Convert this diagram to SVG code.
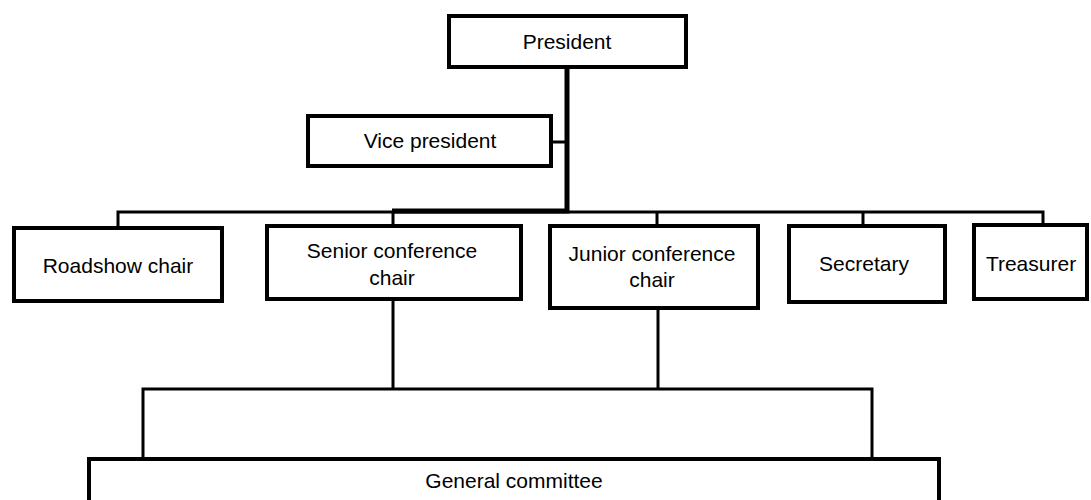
<svg xmlns="http://www.w3.org/2000/svg" width="1091" height="500" viewBox="0 0 1091 500">
<style>
.box{fill:#fff;stroke:#000;stroke-width:4}
.lbl{font-family:"Liberation Sans",Arial,sans-serif;font-size:21px;fill:#000;text-anchor:middle}
.c{fill:none;stroke:#000;stroke-width:3;stroke-linejoin:miter}
.ct{fill:none;stroke:#000;stroke-width:5}
</style>
<rect width="1091" height="500" fill="#fff"/>
<g id="connectors">
<path class="ct" d="M567 68 V211 H392"/>
<path class="c" d="M552 142 H567"/>
<path class="c" d="M118 227 V212 H1043 V226"/>
<path class="c" d="M393 212 V226"/>
<path class="c" d="M657 212 V226"/>
<path class="c" d="M863 212 V226"/>
<path class="c" d="M393 300 V388"/>
<path class="c" d="M658 308 V388"/>
<path class="c" d="M143 458 V389 H872 V458"/>
</g>
<g id="president"><rect class="box" x="449" y="16" width="237" height="51"/><text class="lbl" x="567" y="49">President</text></g>
<g id="vice-president"><rect class="box" x="308" y="116" width="243" height="50"/><text class="lbl" x="430" y="148">Vice president</text></g>
<g id="roadshow-chair"><rect class="box" x="14" y="228" width="208" height="73"/><text class="lbl" x="118" y="273">Roadshow chair</text></g>
<g id="senior-conference-chair"><rect class="box" x="267" y="226" width="254" height="73"/><text class="lbl" x="392" y="258">Senior conference</text><text class="lbl" x="392" y="285">chair</text></g>
<g id="junior-conference-chair"><rect class="box" x="550" y="226" width="208" height="82"/><text class="lbl" x="652" y="261">Junior conference</text><text class="lbl" x="652" y="287">chair</text></g>
<g id="secretary"><rect class="box" x="789" y="226" width="156" height="76"/><text class="lbl" x="864" y="271">Secretary</text></g>
<g id="treasurer"><rect class="box" x="974" y="225" width="113" height="74"/><text class="lbl" x="1031" y="271">Treasurer</text></g>
<g id="general-committee"><rect class="box" x="89" y="459" width="850" height="60"/><text class="lbl" x="514" y="488">General committee</text></g>
</svg>
